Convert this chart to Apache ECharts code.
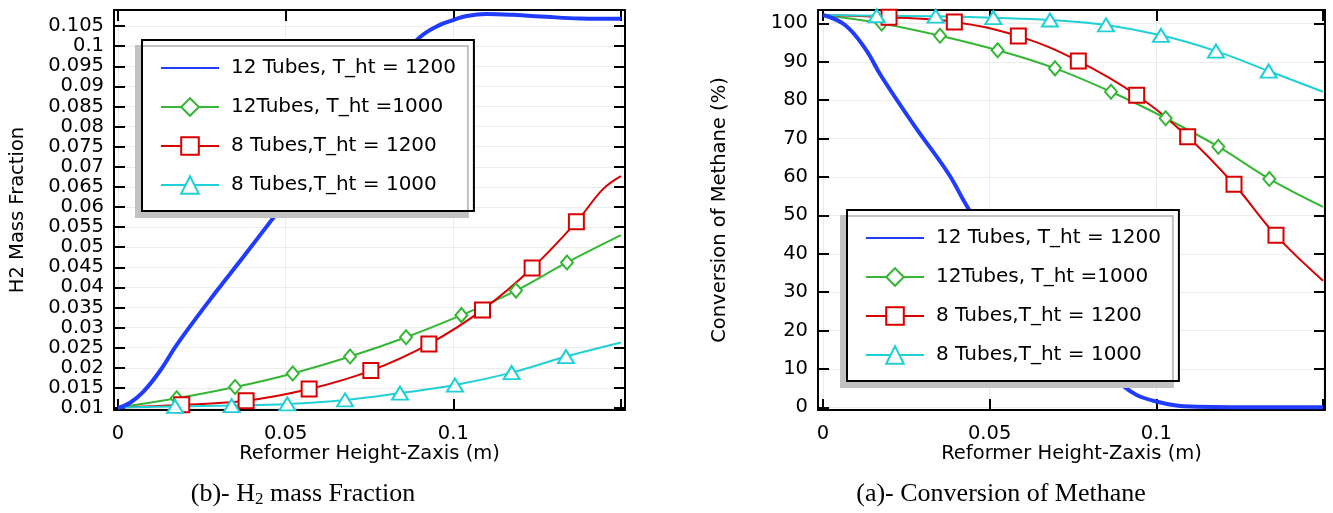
<!DOCTYPE html>
<html>
<head>
<meta charset="utf-8">
<script src="https://cdn.jsdelivr.net/npm/echarts@6/dist/echarts.min.js"></script>
<style>
  html, body { margin: 0; padding: 0; background: #fff; }
  #chart { width: 1333px; height: 513px; }
</style>
</head>
<body>
<div id="chart"></div>
<script>
// ticks and labels
const xTicks = [0, 0.05, 0.1, 0.15];
const xLabels = [0, 0.05, 0.1];
const h2Ticks = [0.01, 0.015, 0.02, 0.025, 0.03, 0.035, 0.04, 0.045, 0.05, 0.055,
  0.06, 0.065, 0.07, 0.075, 0.08, 0.085, 0.09, 0.095, 0.1, 0.105];
const convTicks = [0, 10, 20, 30, 40, 50, 60, 70, 80, 90, 100];

const names = ['12 Tubes, T_ht = 1200', '12Tubes, T_ht =1000', '8 Tubes,T_ht = 1200', '8 Tubes,T_ht = 1000'];
const colors = ['#1f3cff', '#35b635', '#d80000', '#20d0d6'];

// (b) H2 mass fraction, [height m, fraction]
const h2Blue = [[0, 0.0100], [0.0036, 0.0113], [0.0075, 0.0140], [0.0125, 0.0192], [0.0175, 0.0257],
  [0.0274, 0.0369], [0.0374, 0.0476], [0.0473, 0.0584], [0.0692, 0.0821], [0.0796, 0.0933],
  [0.0900, 0.1022], [0.0960, 0.1053], [0.1000, 0.1065], [0.1040, 0.1075], [0.1099, 0.1080],
  [0.1178, 0.1078], [0.1278, 0.1073], [0.1378, 0.1069], [0.1500, 0.1068]];
const h2Green = [[0, 0.0101], [0.0175, 0.0124], [0.0349, 0.0152], [0.0521, 0.0186], [0.0692, 0.0228],
  [0.0859, 0.0276], [0.1024, 0.0331], [0.1187, 0.0392], [0.1339, 0.0462], [0.1500, 0.0530]];
const h2Red = [[0, 0.0101], [0.0190, 0.0108], [0.0382, 0.0118], [0.0570, 0.0147], [0.0754, 0.0193],
  [0.0927, 0.0259], [0.1087, 0.0344], [0.1235, 0.0448], [0.1367, 0.0563], [0.1447, 0.0645],
  [0.1500, 0.0677]];
const h2Cyan = [[0, 0.0101], [0.0170, 0.0104], [0.0339, 0.0106], [0.0505, 0.0110], [0.0677, 0.0120],
  [0.0841, 0.0137], [0.1005, 0.0157], [0.1174, 0.0188], [0.1336, 0.0228], [0.1500, 0.0263]];
const h2GreenMarks = h2Green.slice(1, 9);
const h2RedMarks = h2Red.slice(1, 9);
const h2CyanMarks = h2Cyan.slice(1, 9);

// (a) conversion of methane, [height m, %]
const convBlue = [[0, 102.2], [0.0066, 99.6], [0.0126, 93.5], [0.0176, 86.1], [0.0276, 73.1],
  [0.0376, 60.9], [0.0436, 51.8], [0.0531, 39.4], [0.0651, 24.3], [0.0771, 14.3],
  [0.0891, 6.2], [0.0941, 3.2], [0.1001, 1.5], [0.1081, 0.3], [0.1281, 0], [0.1500, 0]];
const convGreen = [[0, 102.2], [0.0176, 100.0], [0.0351, 96.8], [0.0524, 93.0], [0.0696, 88.3],
  [0.0864, 82.2], [0.1028, 75.3], [0.1186, 67.9], [0.1339, 59.5], [0.1500, 52.2]];
const convRed = [[0, 102.2], [0.0198, 101.6], [0.0394, 100.4], [0.0586, 96.7], [0.0766, 90.2],
  [0.0941, 81.3], [0.1094, 70.5], [0.1233, 58.1], [0.1359, 44.8], [0.1500, 33.0]];
const convCyan = [[0, 102.2], [0.0161, 102.0], [0.0338, 101.9], [0.0511, 101.5], [0.0681, 100.9],
  [0.0849, 99.6], [0.1014, 96.9], [0.1179, 92.8], [0.1337, 87.6], [0.1500, 82.2]];
const convGreenMarks = convGreen.slice(1, 9);
const convRedMarks = convRed.slice(1, 9);
const convCyanMarks = convCyan.slice(1, 9);

const font = 'DejaVu Sans';
const labelSize = 19.5;
const fmt = v => String(+(+v).toFixed(4));

function frameAxes(gridIndex, xMin, xMax) {
  const tick = { show: true, inside: true, length: 11, lineStyle: { color: '#000', width: 2 } };
  const line = { show: true, onZero: false, lineStyle: { color: '#000', width: 2 } };
  return [
    {
      type: 'value', gridIndex, position: 'bottom', min: xMin, max: xMax,
      axisLine: line,
      axisTick: Object.assign({ customValues: xTicks }, tick),
      axisLabel: { customValues: xLabels, formatter: fmt, color: '#000', fontSize: labelSize, fontFamily: font, margin: 14 },
      splitLine: { show: true, lineStyle: { color: '#ececec', width: 1 } },
      name: 'Reformer Height-Zaxis (m)', nameLocation: 'middle', nameGap: 34, nameMoveOverlap: false,
      nameTextStyle: { color: '#000', fontSize: labelSize, fontFamily: font }
    },
    {
      type: 'value', gridIndex, position: 'top', min: xMin, max: xMax,
      axisLine: line,
      axisTick: Object.assign({ customValues: xTicks }, tick),
      axisLabel: { show: false },
      splitLine: { show: false }
    }
  ];
}

function yAxes(gridIndex, yMin, yMax, ticks, title, gap) {
  const tick = { show: true, inside: true, length: 11, customValues: ticks, lineStyle: { color: '#000', width: 2 } };
  const line = { show: true, onZero: false, lineStyle: { color: '#000', width: 2 } };
  return [
    {
      type: 'value', gridIndex, position: 'left', min: yMin, max: yMax,
      axisLine: line, axisTick: tick,
      axisLabel: { customValues: ticks, formatter: fmt, color: '#000', fontSize: labelSize, fontFamily: font, margin: 10 },
      splitLine: { show: true, lineStyle: { color: '#ececec', width: 1 } },
      name: title, nameLocation: 'middle', nameGap: gap, nameMoveOverlap: false,
      nameTextStyle: { color: '#000', fontSize: labelSize, fontFamily: font }
    },
    {
      type: 'value', gridIndex, position: 'right', min: yMin, max: yMax,
      axisLine: line, axisTick: tick,
      axisLabel: { show: false }, splitLine: { show: false }
    }
  ];
}

function legendAt(left, top) {
  return {
    orient: 'vertical', left, top,
    data: [{ name: names[0], itemStyle: { opacity: 0 } }, names[1], names[2], names[3]],
    itemWidth: 58, itemHeight: 22, itemGap: 19,
    padding: [18, 18, 16, 18],
    backgroundColor: '#fff', borderColor: '#000', borderWidth: 2,
    shadowColor: '#c2c2c2', shadowBlur: 0, shadowOffsetX: -6, shadowOffsetY: 6,
    selectedMode: false,
    textStyle: { fontSize: 20, color: '#000', fontFamily: font, padding: [0, 0, 0, 7] }
  };
}

const legendSymbols = ['emptyCircle', 'emptyDiamond', 'emptyRect', 'emptyTriangle'];
const markSymbols = [null, ['diamond', [12, 14]], ['rect', 15], ['triangle', [16, 13]]];

function curve(i, data, axisIdx) {
  return {
    type: 'line', name: names[i], data, xAxisIndex: axisIdx, yAxisIndex: axisIdx,
    smooth: 0.4, showSymbol: false, symbol: legendSymbols[i],
    lineStyle: { color: colors[i], width: i === 0 ? 4 : 2 },
    itemStyle: { color: colors[i] }, silent: true, z: i === 0 ? 3 : 2
  };
}

function marks(i, data, axisIdx) {
  return {
    type: 'scatter', name: names[i], data, xAxisIndex: axisIdx, yAxisIndex: axisIdx,
    symbol: markSymbols[i][0], symbolSize: markSymbols[i][1],
    itemStyle: { color: '#fff', borderColor: colors[i], borderWidth: 2, opacity: 1 },
    silent: true, z: 4
  };
}

const chart = echarts.init(document.getElementById('chart'), null, { renderer: 'canvas' });

const captionRich = {
  sub: { fontSize: 17, fontFamily: 'Liberation Serif', padding: [12, 0, 0, 0], fill: '#000' }
};

chart.setOption({
  animation: false,
  backgroundColor: '#fff',
  textStyle: { fontFamily: font },
  grid: [
    { left: 114, top: 10, width: 511, height: 400 },
    { left: 818, top: 10, width: 507, height: 400 }
  ],
  xAxis: [].concat(frameAxes(0, -0.0012, 0.1512), frameAxes(1, -0.0015, 0.1506)),
  yAxis: [].concat(
    yAxes(0, 0.0095, 0.109, h2Ticks, 'H2 Mass Fraction', 86),
    yAxes(1, -0.7, 103.5, convTicks, 'Conversion of Methane (%)', 88)
  ),
  legend: [legendAt(142, 40), legendAt(847, 210)],
  series: [
    curve(0, h2Blue, 0), curve(1, h2Green, 0), curve(2, h2Red, 0), curve(3, h2Cyan, 0),
    curve(0, convBlue, 2), curve(1, convGreen, 2), curve(2, convRed, 2), curve(3, convCyan, 2),
    marks(1, h2GreenMarks, 0), marks(2, h2RedMarks, 0), marks(3, h2CyanMarks, 0),
    marks(1, convGreenMarks, 2), marks(2, convRedMarks, 2), marks(3, convCyanMarks, 2)
  ],
  graphic: [
    {
      type: 'text', x: 303, y: 494,
      style: {
        text: '(b)- H{sub|2} mass Fraction', rich: captionRich,
        font: '26px "Liberation Serif"', fill: '#000', align: 'center', verticalAlign: 'middle'
      }
    },
    {
      type: 'text', x: 1001, y: 494,
      style: {
        text: '(a)- Conversion of Methane',
        font: '26px "Liberation Serif"', fill: '#000', align: 'center', verticalAlign: 'middle'
      }
    }
  ]
});
</script>
</body>
</html>
